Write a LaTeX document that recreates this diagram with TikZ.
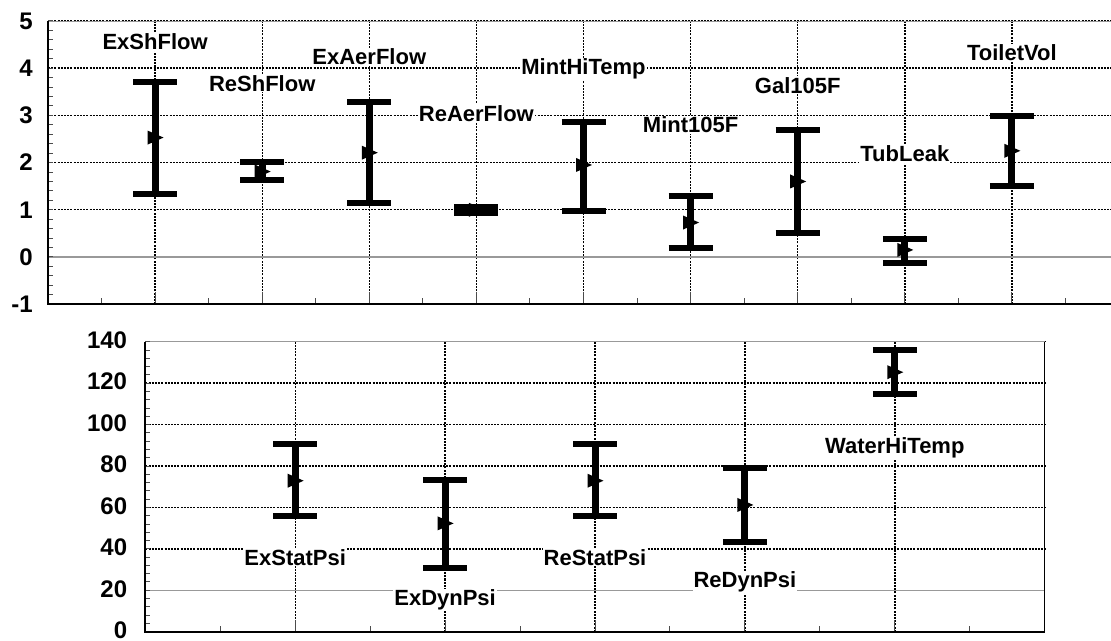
\documentclass[tikz,border=0pt]{standalone}
\usepackage{fontspec}
\setmainfont{Liberation Sans}

\tikzset{
  grid line/.style={line width=1.4pt, dash pattern=on 2pt off 1.2pt},
  ref line/.style={line width=1.4pt, gray!80},
  frame line/.style={line width=0.8pt, gray!80},
  axis line/.style={line width=2pt},
  tick/.style={line width=1pt, gray!60!black},
  tag/.style={font=\fontsize{22}{25}\selectfont\bfseries, fill=white, inner sep=1pt},
  ticklabel/.style={font=\fontsize{24}{27}\selectfont\bfseries, anchor=east, inner sep=0pt},
  errbar/.style={line width=7pt},
  errcap/.style={line width=6pt},
}

% name, x, low, mean, high
\newcommand{\errbarat}[5]{%
  \coordinate (#1hi) at (#2,#5);
  \coordinate (#1lo) at (#2,#3);
  \coordinate (#1m) at (#2,#4);
  \draw[errbar] (#1hi) -- (#1lo);
  \draw[errcap] ([xshift=-22pt]#1hi) -- ([xshift=22pt]#1hi);
  \draw[errcap] ([xshift=-22pt]#1lo) -- ([xshift=22pt]#1lo);
  \fill ([xshift=-7.5pt,yshift=-7pt]#1m) -- ([xshift=8.5pt]#1m) -- ([xshift=-7.5pt,yshift=7pt]#1m) -- cycle;
}

\begin{document}
\begin{tikzpicture}[x=1pt,y=1pt]
\useasboundingbox (0,0) rectangle (1111,640);
\clip (0,0) rectangle (1111,640);

% upper chart
\begin{scope}[shift={(48,383)}, x=107.1pt, y=47.2pt]
\foreach \v in {1,...,5} \draw[grid line] (0,\v) -- (10,\v);
\foreach \k in {1,...,9} \draw[grid line] (\k,-1) -- (\k,5);
\draw[frame line] (0,5) -- (10,5);
\draw[ref line] (0,0) -- (10,0);
\foreach \v in {-1,-0.8,...,5} \draw[tick] (0,\v) -- ++(5pt,0);
\foreach \k in {0.5,1.5,...,9.5} \draw[tick] (\k,-1) -- ++(0,6pt);
\foreach \k in {1,...,9} \draw[tick] (\k,-1) -- ++(0,12pt);
\draw[axis line] (0,5) -- (0,-1) -- (10,-1);
\foreach \v in {-1,...,5} \node[ticklabel] (ya\v) at ([xshift=-15pt]0,\v) {\v};

\node[tag] (exsh) at (1,4.56) {ExShFlow};
\node[tag] (resh) at (2,3.68) {ReShFlow};
\node[tag] (exaer) at (3,4.24) {ExAerFlow};
\node[tag] (reaer) at (4,3.04) {ReAerFlow};
\node[tag] (minthi) at (5,3.98) {MintHiTemp};
\node[tag] (mint105) at (6,2.80) {Mint105F};
\node[tag] (gal105) at (7,3.64) {Gal105F};
\node[tag] (tub) at (8,2.18) {TubLeak};
\node[tag] (toilet) at (9,4.32) {ToiletVol};

\errbarat{exsh}{1}{1.33}{2.53}{3.71}
\errbarat{resh}{2}{1.63}{1.81}{2.02}
\errbarat{exaer}{3}{1.15}{2.21}{3.29}
\errbarat{reaer}{4}{0.93}{1.00}{1.06}
\errbarat{minthi}{5}{0.98}{1.95}{2.87}
\errbarat{mint105}{6}{0.20}{0.73}{1.30}
\errbarat{gal105}{7}{0.50}{1.60}{2.69}
\errbarat{tub}{8}{-0.12}{0.15}{0.38}
\errbarat{toilet}{9}{1.51}{2.25}{2.99}
\end{scope}

% lower chart
\begin{scope}[shift={(145.3,8.3)}, x=149.9pt, y=2.071pt]
\foreach \v in {40,60,...,140} \draw[grid line] (0,\v) -- (6,\v);
\foreach \k in {1,...,6} \draw[grid line] (\k,0) -- (\k,140);
\draw[frame line] (0,140) -- (6,140);
\draw[ref line] (0,20) -- (6,20);
\foreach \v in {0,4,...,140} \draw[tick] (0,\v) -- ++(5pt,0);
\foreach \k in {0.5,1.5,...,5.5} \draw[tick] (\k,0) -- ++(0,6pt);
\foreach \k in {1,...,5} \draw[tick] (\k,0) -- ++(0,12pt);
\draw[axis line] (0,140) -- (0,0) -- (6,0);
\draw[line width=1.2pt] (6,0) -- (6,140);
\foreach \v in {0,20,...,140} \node[ticklabel] (yb\v) at ([xshift=-18pt,yshift=1.5pt]0,\v) {\v};

\node[tag] (exstat) at (1,35.9) {ExStatPsi};
\node[tag] (exdyn) at (2,15.3) {ExDynPsi};
\node[tag] (restat) at (3,35.9) {ReStatPsi};
\node[tag] (redyn) at (4,24.1) {ReDynPsi};
\node[tag] (waterhi) at (5,88.6) {WaterHiTemp};

\errbarat{exstat}{1}{56.0}{72.9}{90.6}
\errbarat{exdyn}{2}{30.9}{52.3}{73.2}
\errbarat{restat}{3}{56.0}{72.9}{90.6}
\errbarat{redyn}{4}{43.5}{61.2}{79.2}
\errbarat{waterhi}{5}{114.6}{125.3}{136.0}
\end{scope}
\end{tikzpicture}
\end{document}
